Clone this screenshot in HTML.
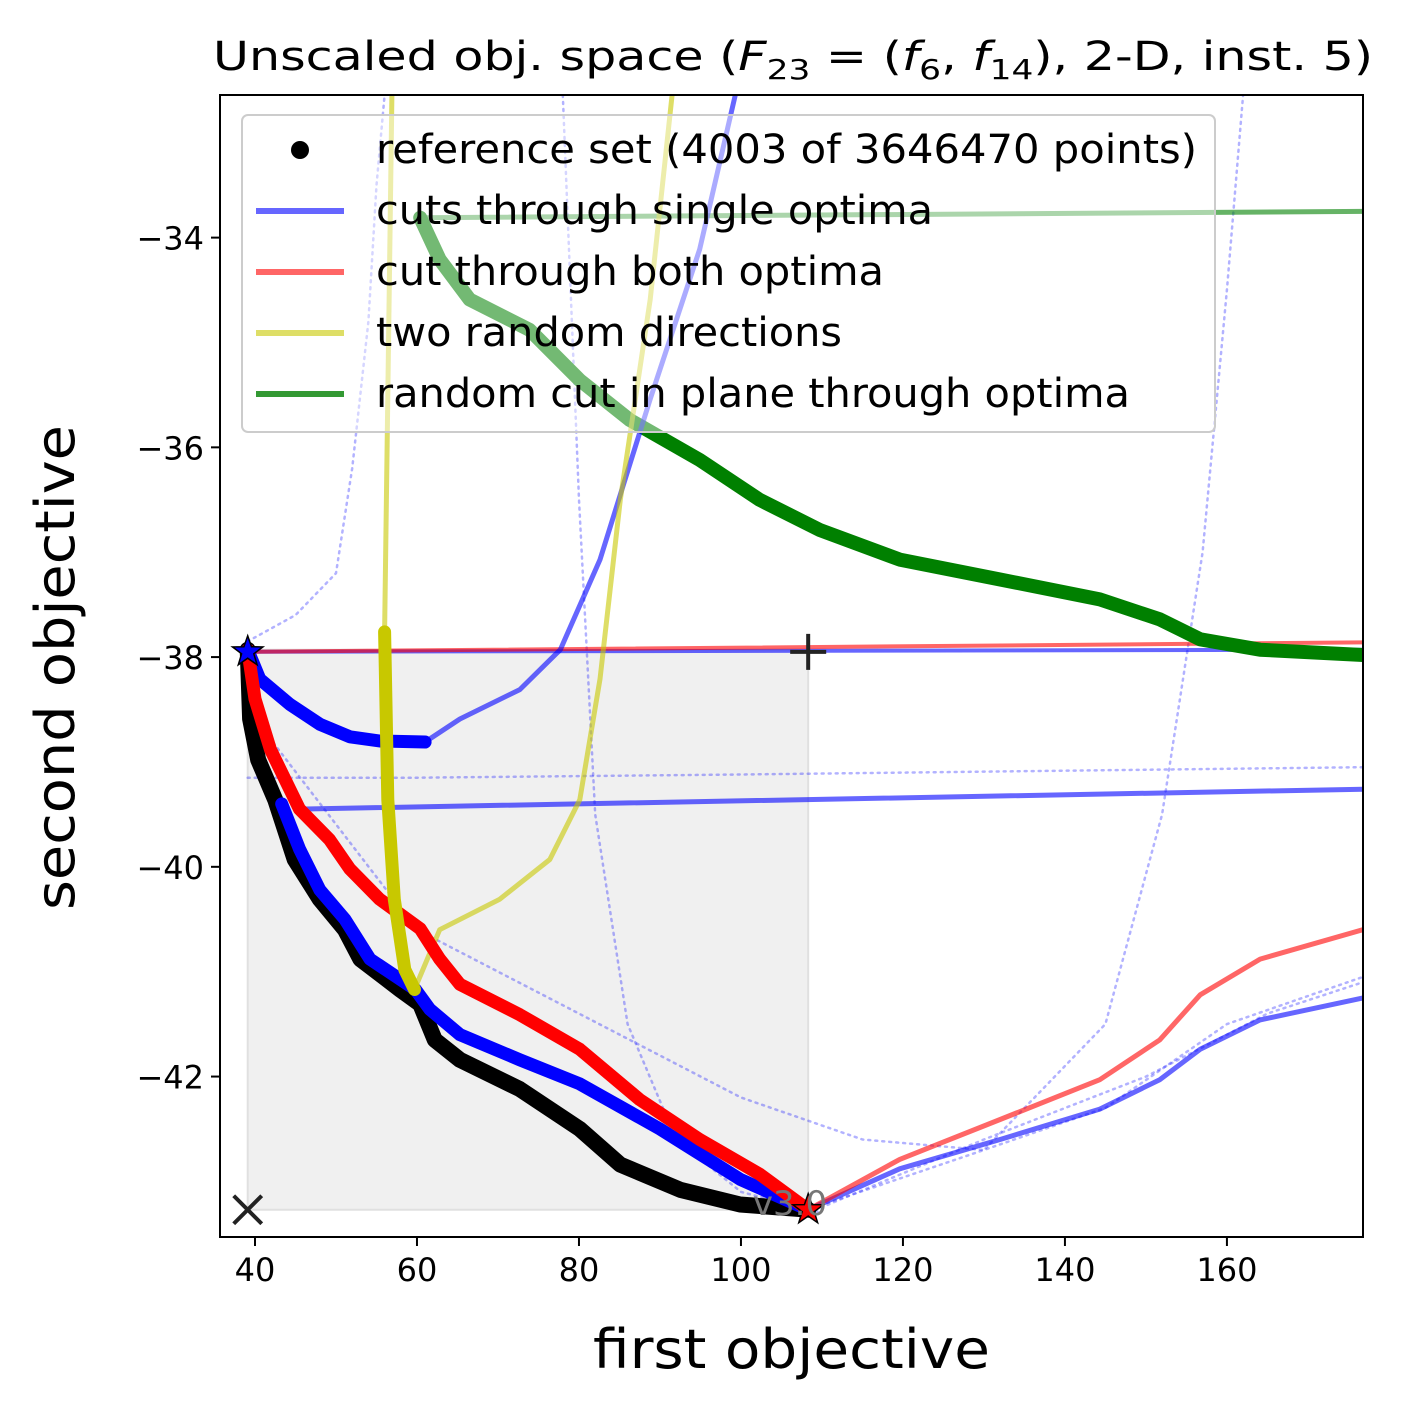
<!DOCTYPE html>
<html><head><meta charset="utf-8"><style>
body{margin:0;background:#fff;}
svg text{font-family:"DejaVu Sans","Liberation Sans",sans-serif;}
</style></head><body>
<svg id="chart" width="1403" height="1410" xmlns="http://www.w3.org/2000/svg">
<text x="213" y="70" font-size="40" textLength="1160" lengthAdjust="spacingAndGlyphs">Unscaled obj. space (<tspan font-style="italic">F</tspan><tspan font-size="28" dy="9">23</tspan><tspan dy="-9"> = (</tspan><tspan font-style="italic">f</tspan><tspan font-size="28" dy="9">6</tspan><tspan dy="-9">, </tspan><tspan font-style="italic">f</tspan><tspan font-size="28" dy="9">14</tspan><tspan dy="-9">), 2-D, inst. 5)</tspan></text>
<g id="plot"></g>
<text x="593" y="1368" font-size="54" textLength="397" lengthAdjust="spacingAndGlyphs">first objective</text>
<text x="74" y="910" font-size="54" textLength="485" lengthAdjust="spacingAndGlyphs" transform="rotate(-90 74 910)">second objective</text>
</svg>
<script>
const xTicks=[40,60,80,100,120,140,160];
const yTicks=[-34,-36,-38,-40,-42];
const refX=[39.1,39.4,40.4,42.5,44.9,48.0,51.1,53.0,57.9,60.4,62.2,65.3,72.7,80.1,85.1,92.5,99.9,108.3];
const refY=[-37.93,-38.59,-38.98,-39.36,-39.93,-40.31,-40.60,-40.88,-41.17,-41.31,-41.65,-41.84,-42.12,-42.50,-42.84,-43.08,-43.22,-43.27];
const blueAX=[39.1,40.6,44.3,48.0,51.7,55.4,61.0];
const blueAY=[-37.93,-38.21,-38.45,-38.64,-38.76,-38.80,-38.81];
const blueAtX=[61.0,65.3,72.7,77.7,82.6,88.8,94.9,99.3];
const blueAtY=[-38.81,-38.59,-38.31,-37.93,-37.07,-35.54,-34.11,-32.64];
const blueBX=[108.3,99.9,90.0,80.1,72.7,65.3,61.6,59.8,54.2,51.1,48.0,45.5,43.3];
const blueBY=[-43.27,-42.98,-42.50,-42.07,-41.84,-41.60,-41.36,-41.17,-40.88,-40.50,-40.22,-39.83,-39.40];
const blueBtX=[45.5,176.8];
const blueBtY=[-39.45,-39.26];
const blueRX=[108.3,119.6,132.0,144.3,151.7,156.7,164.1,176.8];
const blueRY=[-43.27,-42.88,-42.60,-42.31,-42.03,-41.74,-41.46,-41.25];
const blueHX=[39.1,176.8];
const blueHY=[-37.95,-37.93];
const redX=[39.1,40.0,41.9,45.5,49.2,51.7,55.4,60.4,62.8,65.3,72.7,80.1,87.5,94.9,102.3,108.3];
const redY=[-37.93,-38.40,-38.88,-39.45,-39.74,-40.02,-40.31,-40.59,-40.88,-41.12,-41.41,-41.74,-42.22,-42.60,-42.93,-43.27];
const redRX=[108.3,119.6,132.0,144.3,151.7,156.7,164.1,176.8];
const redRY=[-43.27,-42.79,-42.41,-42.03,-41.65,-41.22,-40.88,-40.60];
const redHX=[39.1,176.8];
const redHY=[-37.95,-37.86];
const yelX=[56.0,56.4,57.2,58.5,59.7];
const yelY=[-37.76,-39.36,-40.31,-40.98,-41.17];
const yelTX=[56.9,56.0];
const yelTY=[-32.64,-37.76];
const yel2X=[59.7,62.8,70.2,76.4,80.1,82.6,85.1,88.8,91.5];
const yel2Y=[-41.17,-40.60,-40.31,-39.93,-39.36,-38.21,-36.50,-34.59,-32.64];
const grTX=[60.4,176.8];
const grTY=[-33.81,-33.75];
const grX=[60.4,62.8,66.5,73.9,80.1,86.3,94.9,102.3,109.8,119.6,132.0,144.3,151.7,156.7,164.1,176.8];
const grY=[-33.81,-34.21,-34.59,-34.88,-35.36,-35.74,-36.12,-36.50,-36.79,-37.07,-37.26,-37.45,-37.64,-37.83,-37.93,-37.98];
const dot1X=[39.1,45,50,52,54,55,56];
const dot1Y=[-37.85,-37.6,-37.2,-36.2,-34.8,-33.5,-32.64];
const dot2X=[39.1,60,100,176.8];
const dot2Y=[-39.15,-39.15,-39.12,-39.05];
const dot3X=[78,80,82,86,92,100,110];
const dot3Y=[-32.64,-36.5,-39.5,-41.5,-42.6,-43.1,-43.3];
const dot4X=[109,130,145,152,157,160,162];
const dot4Y=[-43.25,-42.7,-41.5,-39.5,-37,-34.5,-32.64];
const dot5X=[39.1,60,80,100,115,130,145,160,176.8];
const dot5Y=[-38.5,-40.6,-41.4,-42.2,-42.6,-42.7,-42.3,-41.5,-41.05];
const dot6X=[108.3,130,150,165,176.8];
const dot6Y=[-43.3,-42.6,-42.0,-41.4,-41.1];

const X0=35.68,X1=176.8,Y0=-43.53,Y1=-32.64,L=220,R=1363,T=95,B=1237;
const sx=v=>L+(v-X0)/(X1-X0)*(R-L);
const sy=v=>B-(v-Y0)/(Y1-Y0)*(B-T);
const NS="http://www.w3.org/2000/svg";
const plot=document.getElementById('plot');
function mk(tag,attrs,parent){const e=document.createElementNS(NS,tag);for(const k in attrs)e.setAttribute(k,attrs[k]);(parent||plot).appendChild(e);return e;}
const clip=mk('clipPath',{id:'clp'});mk('rect',{x:L,y:T,width:R-L,height:B-T},clip);
const g=mk('g',{'clip-path':'url(#clp)'});
const shade=mk('rect',{x:sx(39.1),y:sy(-37.93),width:sx(108.3)-sx(39.1),height:sy(-43.27)-sy(-37.93),fill:'#f0f0f0',stroke:'#e0e0e0','stroke-width':2},g);


function line(xs,ys,color,w,op,name,dash){
 const d=xs.map((x,i)=>(i?'L':'M')+sx(x).toFixed(1)+','+sy(ys[i]).toFixed(1)).join(' ');
 const p=mk('path',{d:d,fill:'none',stroke:color,'stroke-width':w,'stroke-opacity':op,'stroke-linejoin':'round','stroke-linecap':'round'},g);
 if(dash)p.setAttribute('stroke-dasharray',dash);
 
 
}
[[dot1X,dot1Y],[dot2X,dot2Y],[dot3X,dot3Y],[dot4X,dot4Y],[dot5X,dot5Y],[dot6X,dot6Y]].forEach(a=>line(a[0],a[1],'#0000ff',2.5,0.3,'dotted-cut','2,5'));
line(blueHX,blueHY,'#0000ff',4,0.6,'blue-horizontal-cut');
line(redHX,redHY,'#ff0000',4,0.6,'red-horizontal-cut');
line(grTX,grTY,'#008000',5,0.6,'green-thin-cut');
line(grX,grY,'#008000',14,1,'green-thick-cut');
line(blueAtX,blueAtY,'#0000ff',5,0.6,'blue-cut-a-thin');
line(blueBtX,blueBtY,'#0000ff',5,0.6,'blue-cut-b-thin');
line(blueRX,blueRY,'#0000ff',5,0.6,'blue-cut-right');
line(redRX,redRY,'#ff0000',5,0.6,'red-cut-right');
line(yelTX,yelTY,'#c8c800',5,0.6,'yellow-thin-cut');
line(yel2X,yel2Y,'#c8c800',5,0.6,'yellow-second-cut');
line(refX,refY,'#000000',16,1,'reference-set');
line(blueBX,blueBY,'#0000ff',13,1,'blue-cut-b');
line(blueAX,blueAY,'#0000ff',13,1,'blue-cut-a');
line(redX,redY,'#ff0000',13,1,'red-cut');
line(yelX,yelY,'#c8c800',13,1,'yellow-cut');
function star(cx,cy,r,fill,name){let pts=[];for(let i=0;i<10;i++){const a=-Math.PI/2+i*Math.PI/5,rr=i%2?r*0.4:r;pts.push((cx+rr*Math.cos(a)).toFixed(1)+','+(cy+rr*Math.sin(a)).toFixed(1));}
 const s=mk('polygon',{points:pts.join(' '),fill:fill,stroke:'#000','stroke-width':1.5});
 
 }
star(sx(39.1),sy(-37.95),16,'#0000ff','optimum-1-star');
star(sx(108.3),sy(-43.27),16,'#ff0000','optimum-2-star');
const np=mk('path',{d:`M${sx(108.3)-18},${sy(-37.95)}h36M${sx(108.3)},${sy(-37.95)-18}v36`,stroke:'#222','stroke-width':4});


const ip=mk('path',{d:`M${sx(39.1)-14},${sy(-43.27)-14}l28,28M${sx(39.1)+14},${sy(-43.27)-14}l-28,28`,stroke:'#222','stroke-width':4});


const vt=mk('text',{x:790,y:1215,'font-size':34,fill:'#777','text-anchor':'middle'});vt.textContent='v3.0';


const fr=mk('rect',{x:L,y:T,width:R-L,height:B-T,fill:'none',stroke:'#000','stroke-width':2});


xTicks.forEach(v=>{mk('line',{x1:sx(v),x2:sx(v),y1:B,y2:B+9,stroke:'#000','stroke-width':2});
 const t=mk('text',{x:sx(v),y:B+44,'font-size':32,'text-anchor':'middle'});t.textContent=v;
 
 });
yTicks.forEach(v=>{mk('line',{x1:L-9,x2:L,y1:sy(v),y2:sy(v),stroke:'#000','stroke-width':2});
 const t=mk('text',{x:L-16,y:sy(v)+12,'font-size':32,'text-anchor':'end'});t.textContent='\u2212'+Math.abs(v);
 
 });
const lg=mk('g',{});


mk('rect',{x:242,y:115,width:973,height:317,rx:6,fill:'#fff','fill-opacity':0.45,stroke:'#ccc','stroke-width':2},lg);
const items=[['reference set (4003 of 3646470 points)','#000',1,821,'dot'],['cuts through single optima','#0000ff',0.6,557],['cut through both optima','#ff0000',0.6,508],['two random directions','#c8c800',0.6,466],['random cut in plane through optima','#008000',0.8,754]];
items.forEach((it,i)=>{const y=150+i*61;
 if(it[4])mk('circle',{cx:300,cy:y,r:9,fill:'#000'},lg);else mk('line',{x1:256,x2:344,y1:y,y2:y,stroke:it[1],'stroke-width':6,'stroke-opacity':it[2]},lg);
 const t=mk('text',{x:376,y:y+13,'font-size':40,textLength:it[3],lengthAdjust:'spacingAndGlyphs'},lg);t.textContent=it[0];
 
 });
</script>
</body></html>
